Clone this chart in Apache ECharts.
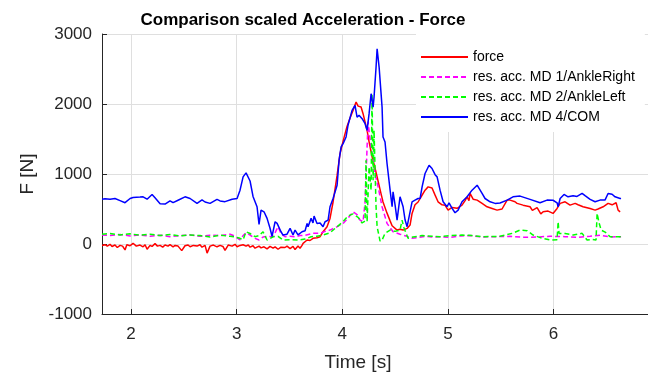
<!DOCTYPE html>
<html>
<head>
<meta charset="utf-8">
<script src="https://cdn.jsdelivr.net/npm/echarts@6/dist/echarts.min.js"></script>
<style>
  html, body { margin: 0; padding: 0; background: #fff; }
  #chart { width: 648px; height: 374px; }
</style>
</head>
<body>
<div id="chart"></div>
<script>
// [time s, F N]
const force = [
  [1.725, -20], [1.740, -40], [1.754, -10], [1.775, -30], [1.801, -5], [1.820, -35], [1.848, -15], [1.870, -50],
  [1.896, -20], [1.920, -30], [1.943, -85], [1.960, -10], [1.991, -25], [2.019, 10], [2.050, -30], [2.085, -15],
  [2.114, -40], [2.133, -10], [2.152, -75], [2.180, -20], [2.199, -35], [2.227, 5], [2.250, -30], [2.275, -20],
  [2.300, -45], [2.322, -15], [2.350, -30], [2.369, -10], [2.398, -40], [2.417, -20], [2.445, -30], [2.480, -95],
  [2.511, -25], [2.540, -15], [2.559, -40], [2.590, -20], [2.625, -30], [2.653, -10], [2.672, -45], [2.701, -20],
  [2.720, -130], [2.748, -30], [2.780, -15], [2.814, -40], [2.843, -20], [2.870, -35], [2.890, -90], [2.920, -15],
  [2.957, -30], [2.985, -5], [3.004, -40], [3.032, -20], [3.061, -10], [3.089, -30], [3.110, -15], [3.127, -45],
  [3.155, -25], [3.174, -60], [3.212, -30], [3.231, -55], [3.259, -40], [3.288, -70], [3.316, -35], [3.345, -60],
  [3.364, -40], [3.392, -75], [3.420, -45], [3.458, -50], [3.477, -30], [3.506, -65], [3.534, -35], [3.553, -80],
  [3.581, -30], [3.600, -60], [3.619, -20], [3.629, 10], [3.667, 57], [3.695, 50], [3.723, 81], [3.761, 90],
  [3.790, 104], [3.818, 175], [3.856, 247], [3.884, 366], [3.913, 600], [3.951, 980], [3.979, 1290], [4.008, 1470],
  [4.045, 1680], [4.074, 1800], [4.102, 1909], [4.131, 2027], [4.150, 1970], [4.178, 1956], [4.197, 1862], [4.235, 1624],
  [4.254, 1460], [4.282, 1250], [4.311, 1078], [4.339, 900], [4.367, 720], [4.386, 600], [4.424, 441], [4.453, 330],
  [4.472, 260], [4.519, 199], [4.547, 210], [4.576, 199], [4.614, 223], [4.642, 271], [4.661, 437], [4.689, 560],
  [4.718, 600], [4.737, 650], [4.784, 769], [4.813, 816], [4.850, 800], [4.879, 698], [4.907, 603], [4.945, 560],
  [4.973, 555], [5.002, 484], [5.040, 522], [5.087, 510], [5.134, 555], [5.163, 620], [5.182, 674], [5.200, 620],
  [5.210, 722], [5.239, 640], [5.277, 627], [5.324, 580], [5.371, 532], [5.419, 508], [5.466, 484], [5.513, 500],
  [5.561, 627], [5.589, 627], [5.636, 603], [5.655, 580], [5.712, 555], [5.778, 532], [5.800, 480], [5.845, 520],
  [5.880, 430], [5.902, 460], [5.949, 470], [5.996, 437], [6.034, 508], [6.063, 580], [6.110, 603], [6.157, 555],
  [6.205, 580], [6.233, 560], [6.280, 532], [6.347, 508], [6.394, 484], [6.422, 500], [6.470, 532], [6.517, 580],
  [6.555, 560], [6.593, 589], [6.612, 484], [6.631, 460]
];

const ankleRight = [
  [1.725, 130], [1.801, 120], [1.896, 135], [1.991, 115], [2.085, 130], [2.180, 110], [2.275, 125], [2.369, 105],
  [2.464, 120], [2.559, 130], [2.653, 110], [2.748, 125], [2.843, 120], [2.938, 140], [2.985, 110], [3.032, 60],
  [3.061, 120], [3.089, 160], [3.127, 128], [3.174, 80], [3.212, 57], [3.250, 100], [3.288, 110], [3.345, 104],
  [3.392, 247], [3.420, 150], [3.458, 104], [3.506, 110], [3.553, 104], [3.600, 120], [3.648, 125], [3.723, 152],
  [3.790, 152], [3.837, 180], [3.884, 199], [3.951, 247], [4.008, 294], [4.055, 370], [4.102, 460], [4.140, 420],
  [4.169, 340], [4.197, 320], [4.216, 600], [4.244, 1750], [4.263, 1500], [4.282, 1300], [4.311, 1000], [4.339, 820],
  [4.377, 532], [4.424, 294], [4.481, 175], [4.547, 140], [4.614, 110], [4.652, 81], [4.708, 90], [4.784, 110],
  [4.850, 100], [4.926, 104], [5.021, 95], [5.116, 115], [5.210, 120], [5.324, 100], [5.447, 104], [5.589, 110],
  [5.712, 95], [5.845, 100], [5.968, 110], [6.110, 105], [6.233, 95], [6.347, 110], [6.441, 125], [6.536, 100],
  [6.640, 104]
];

const ankleLeft = [
  [1.725, 140], [1.801, 150], [1.896, 130], [1.991, 145], [2.085, 125], [2.180, 140], [2.275, 120], [2.369, 135],
  [2.464, 115], [2.559, 130], [2.653, 120], [2.748, 100], [2.843, 125], [2.938, 110], [2.985, 100], [3.032, 81],
  [3.061, 60], [3.089, 175], [3.127, 150], [3.174, 104], [3.212, 120], [3.250, 175], [3.288, 57], [3.316, 80],
  [3.345, 104], [3.392, 110], [3.439, 57], [3.506, 60], [3.581, 57], [3.648, 70], [3.705, 104], [3.761, 110],
  [3.818, 130], [3.884, 160], [3.951, 247], [4.008, 320], [4.055, 400], [4.102, 430], [4.150, 380], [4.188, 300],
  [4.216, 330], [4.225, 1197], [4.235, 318], [4.254, 1101], [4.273, 769], [4.282, 2140], [4.292, 912], [4.301, 1624],
  [4.320, 532], [4.330, 247], [4.358, 40], [4.377, 57], [4.405, 152], [4.453, 199], [4.500, 180], [4.547, 199],
  [4.566, 342], [4.585, 228], [4.623, 81], [4.670, 100], [4.756, 120], [4.850, 110], [4.926, 104], [5.021, 120],
  [5.134, 128], [5.229, 120], [5.333, 104], [5.494, 110], [5.608, 152], [5.684, 199], [5.750, 190], [5.807, 128],
  [5.892, 81], [5.968, 57], [6.034, 60], [6.044, 318], [6.053, 150], [6.110, 150], [6.186, 128], [6.271, 152],
  [6.318, 57], [6.366, 65], [6.403, 57], [6.413, 437], [6.432, 300], [6.451, 199], [6.489, 170], [6.536, 104],
  [6.640, 104]
];

const com = [
  [1.725, 640], [1.754, 645], [1.801, 640], [1.848, 650], [1.896, 620], [1.943, 590], [1.991, 650], [2.019, 665],
  [2.085, 670], [2.114, 674], [2.152, 640], [2.199, 708], [2.227, 660], [2.275, 575], [2.322, 570], [2.369, 617],
  [2.398, 590], [2.445, 625], [2.511, 674], [2.559, 650], [2.625, 580], [2.672, 630], [2.701, 600], [2.748, 580],
  [2.814, 637], [2.843, 615], [2.890, 605], [2.957, 640], [3.004, 650], [3.032, 769], [3.061, 959], [3.089, 1016],
  [3.127, 900], [3.155, 680], [3.193, 532], [3.212, 280], [3.231, 484], [3.259, 460], [3.288, 366], [3.316, 225],
  [3.335, 110], [3.364, 318], [3.383, 294], [3.420, 175], [3.439, 128], [3.477, 140], [3.506, 223], [3.534, 128],
  [3.553, 199], [3.581, 130], [3.619, 175], [3.648, 190], [3.667, 294], [3.676, 247], [3.705, 366], [3.723, 300],
  [3.733, 399], [3.761, 294], [3.790, 300], [3.818, 247], [3.837, 318], [3.866, 342], [3.884, 532], [3.913, 650],
  [3.951, 840], [3.970, 1200], [3.989, 1386], [4.008, 1434], [4.036, 1529], [4.055, 1700], [4.093, 1909], [4.121, 1980],
  [4.140, 1813], [4.159, 1838], [4.188, 1790], [4.216, 1719], [4.235, 1624], [4.254, 1862], [4.273, 2147], [4.292, 1956],
  [4.301, 2098], [4.320, 2526], [4.330, 2788], [4.349, 2526], [4.377, 1956], [4.386, 1529], [4.405, 1457], [4.424, 1150],
  [4.453, 769], [4.472, 532], [4.481, 745], [4.500, 560], [4.519, 342], [4.547, 674], [4.576, 532], [4.595, 342],
  [4.614, 247], [4.661, 603], [4.689, 627], [4.718, 650], [4.737, 650], [4.756, 816], [4.784, 1007], [4.822, 1125],
  [4.850, 1078], [4.879, 990], [4.898, 959], [4.926, 769], [4.955, 603], [4.992, 532], [5.011, 589], [5.040, 508],
  [5.068, 446], [5.097, 484], [5.134, 603], [5.182, 674], [5.229, 769], [5.277, 840], [5.295, 830], [5.324, 722],
  [5.352, 650], [5.400, 603], [5.447, 580], [5.494, 585], [5.561, 627], [5.617, 674], [5.684, 684], [5.778, 637],
  [5.873, 589], [5.939, 627], [5.996, 625], [6.034, 589], [6.044, 532], [6.063, 650], [6.100, 708], [6.138, 674],
  [6.186, 690], [6.223, 680], [6.271, 722], [6.299, 690], [6.347, 637], [6.394, 603], [6.441, 627], [6.489, 630],
  [6.517, 722], [6.555, 710], [6.583, 674], [6.631, 650], [6.640, 650]
];

const seriesNames = ['force', 'res. acc. MD 1/AnkleRight', 'res. acc. MD 2/AnkleLeft', 'res. acc. MD 4/COM'];
const yTicks = [-1000, 0, 1000, 2000, 3000];

const font = 'Liberation Sans, Arial, Helvetica, sans-serif';
const axisColor = '#262626';

function lineSeries (name, data, color, dashed) {
  return {
    name: name,
    type: 'line',
    data: data,
    symbol: 'none',
    smooth: false,
    lineStyle: { color: color, width: 1.5, type: dashed ? [5, 3] : 'solid' },
    itemStyle: { color: color }
  }
}

const chart = echarts.init(document.getElementById('chart'), null, { renderer: 'canvas' });
chart.setOption({
  animation: false,
  backgroundColor: '#fff',
  graphic: [{
    type: 'text',
    x: 303,
    y: 20,
    style: {
      text: 'Comparison scaled Acceleration - Force',
      align: 'center',
      verticalAlign: 'middle',
      fill: '#000',
      font: 'bold 17px ' + font
    }
  }],
  legend: {
    data: seriesNames,
    orient: 'vertical',
    left: 416,
    top: 33,
    padding: [17, 10, 8, 4],
    backgroundColor: '#fff',
    itemWidth: 47,
    itemHeight: 14,
    itemGap: 6,
    itemStyle: { opacity: 0 },
    textStyle: { fontFamily: font, fontSize: 14, color: '#000' },
    z: 10
  },
  grid: { left: 102, right: 0, top: 34, bottom: 60, containLabel: false, outerBoundsMode: 'none' },
  xAxis: {
    type: 'value',
    min: 1.725,
    max: 6.895,
    splitNumber: 5,
    name: 'Time [s]',
    nameLocation: 'middle',
    nameGap: 39,
    nameTextStyle: { fontFamily: font, fontSize: 19, color: axisColor, padding: [0, 34, 0, 0] },
    axisLine: { onZero: false, lineStyle: { color: axisColor, width: 1 } },
    axisTick: { inside: true, length: 5, lineStyle: { color: axisColor } },
    axisLabel: {
      fontFamily: font, fontSize: 17, color: axisColor, margin: 12,
      showMinLabel: false, showMaxLabel: false,
      formatter: v => (Math.abs(v - Math.round(v)) < 1e-6 ? String(Math.round(v)) : '')
    },
    splitLine: { show: true, showMinLine: false, showMaxLine: false, lineStyle: { color: '#dfdfdf', width: 1 } }
  },
  yAxis: {
    type: 'value',
    min: yTicks[0],
    max: yTicks[yTicks.length - 1],
    interval: 1000,
    name: 'F [N]',
    nameLocation: 'middle',
    nameGap: 59,
    nameTextStyle: { fontFamily: font, fontSize: 19, color: axisColor },
    axisLine: { show: true, lineStyle: { color: axisColor, width: 1 } },
    axisTick: { show: true, inside: true, length: 5, lineStyle: { color: axisColor } },
    axisLabel: { fontFamily: font, fontSize: 17, color: axisColor, margin: 10, formatter: v => String(v) },
    splitLine: { show: true, lineStyle: { color: '#dfdfdf', width: 1 } }
  },
  series: [
    lineSeries(seriesNames[0], force, '#ff0000', false),
    lineSeries(seriesNames[1], ankleRight, '#ff00ff', true),
    lineSeries(seriesNames[2], ankleLeft, '#00ff00', true),
    lineSeries(seriesNames[3], com, '#0000ff', false)
  ]
});
</script>
</body>
</html>
